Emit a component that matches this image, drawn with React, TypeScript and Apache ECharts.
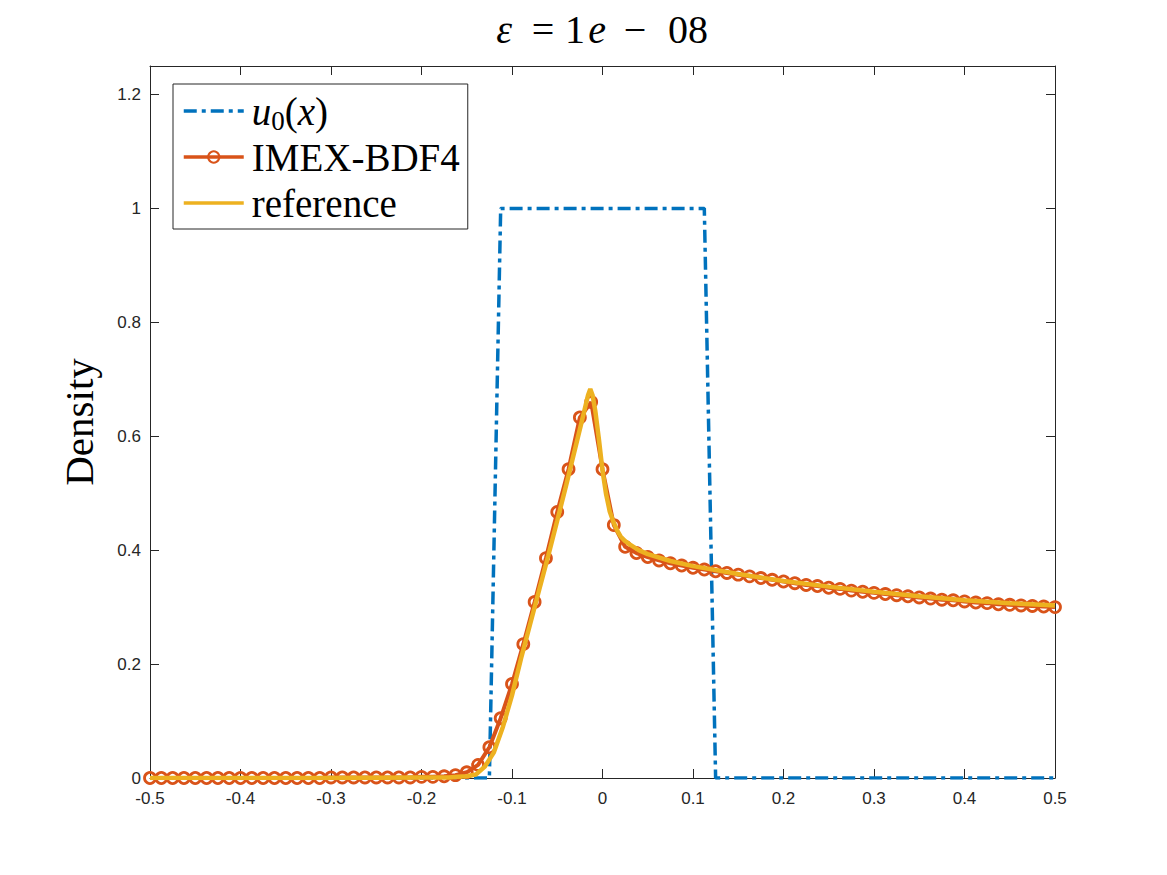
import { useEffect, useRef } from "react";
import * as echarts from "echarts";

// Uniform mesh on [-0.5, 0.5] with 80 cells
const xGrid: number[] = Array.from({ length: 81 }, (_, i) => -0.5 + i / 80);

// Initial datum u0(x) sampled on the mesh
const u0Values: number[] = [
  0, 0, 0, 0, 0, 0, 0, 0, 0, 0,
  0, 0, 0, 0, 0, 0, 0, 0, 0, 0,
  0, 0, 0, 0, 0, 0, 0, 0, 0, 0,
  0, 1, 1, 1, 1, 1, 1, 1, 1, 1,
  1, 1, 1, 1, 1, 1, 1, 1, 1, 1,
  0, 0, 0, 0, 0, 0, 0, 0, 0, 0,
  0, 0, 0, 0, 0, 0, 0, 0, 0, 0,
  0, 0, 0, 0, 0, 0, 0, 0, 0, 0,
  0,
];

// IMEX-BDF4 solution on the mesh
const imexValues: number[] = [
  0, 0, 0, 0, 0, 0, 0, 0, 0, 0,
  0, 0, 0, 0, 0, 0, 0.001, 0.001, 0.001, 0.001,
  0.001, 0.001, 0.001, 0.001, 0.002, 0.002, 0.003, 0.005, 0.01, 0.023,
  0.054, 0.105, 0.165, 0.235, 0.309, 0.386, 0.467, 0.542, 0.633, 0.66,
  0.542, 0.444, 0.406, 0.395, 0.388, 0.382, 0.377, 0.373, 0.369, 0.366,
  0.363, 0.36, 0.357, 0.354, 0.351, 0.348, 0.345, 0.342, 0.339, 0.337,
  0.334, 0.332, 0.329, 0.327, 0.325, 0.323, 0.321, 0.319, 0.317, 0.315,
  0.313, 0.312, 0.31, 0.308, 0.307, 0.305, 0.304, 0.303, 0.302, 0.301,
  0.3,
];

// Reference solution (finer sampling)
const refX: number[] = [
  -0.5, -0.3, -0.2, -0.17, -0.16, -0.15, -0.14, -0.13, -0.12, -0.11,
  -0.1, -0.09, -0.08, -0.07, -0.06, -0.05, -0.04, -0.03, -0.02, -0.016,
  -0.0135, -0.011, -0.008, -0.004, 0, 0.004, 0.008, 0.012, 0.016, 0.02,
  0.025, 0.03, 0.04, 0.05, 0.075, 0.1, 0.15, 0.2, 0.25, 0.3,
  0.35, 0.4, 0.45, 0.5,
];
const refY: number[] = [
  0, 0, 0.001, 0.001, 0.002, 0.003, 0.006, 0.02, 0.045, 0.09,
  0.145, 0.21, 0.27, 0.33, 0.39, 0.452, 0.515, 0.58, 0.645, 0.672,
  0.683, 0.672, 0.645, 0.595, 0.54, 0.498, 0.468, 0.45, 0.435, 0.424,
  0.416, 0.41, 0.4, 0.393, 0.381, 0.372, 0.358, 0.346, 0.336, 0.327,
  0.319, 0.312, 0.307, 0.303,
];

// Title pieces: ε = 1e − 08 (italic for math symbols)
const titleParts: { text: string; italic: boolean; cx: number }[] = [
  { text: "ε", italic: true, cx: 504 },
  { text: "=", italic: false, cx: 543 },
  { text: "1", italic: false, cx: 575 },
  { text: "e", italic: true, cx: 597 },
  { text: "−", italic: false, cx: 635 },
  { text: "08", italic: false, cx: 688 },
];

const xTicks = { min: -0.5, max: 0.5, step: 0.1 };
const yTicks = { min: 0, max: 1.25, step: 0.2 };

const BLUE = "#0072BD";
const ORANGE = "#D95319";
const YELLOW = "#EDB120";
const AXIS = "#262626";
const SERIF = "Liberation Serif";
const SANS = "Liberation Sans";

const fmt = (v: number) => {
  const r = Math.round(v * 10) / 10;
  return Object.is(r, -0) ? "0" : String(r);
};

export default function App() {
  const ref = useRef<HTMLDivElement>(null);

  useEffect(() => {
    if (!ref.current) return;
    const chart = echarts.init(ref.current, null, { renderer: "svg" });

    const tick = { show: true, inside: true, length: 9, lineStyle: { color: AXIS, width: 1 } };
    const line = { show: true, onZero: false, lineStyle: { color: AXIS, width: 1 } };
    const serifText = (size: number, italic = false) => ({
      fontFamily: SERIF,
      fontStyle: italic ? "italic" : "normal",
      fontWeight: "normal",
      fontSize: size,
      color: "#000",
    });

    chart.setOption({
      animation: false,
      backgroundColor: "#fff",
      textStyle: { fontFamily: SERIF },
      title: titleParts.map((p) => ({
        text: p.text,
        left: p.cx,
        top: 29,
        textAlign: "center",
        textVerticalAlign: "middle",
        padding: 0,
        textStyle: serifText(40, p.italic),
      })),
      legend: {
        left: 173,
        top: 84,
        orient: "vertical",
        padding: [4, 8, 3, 9],
        itemGap: 0,
        itemWidth: 60,
        itemHeight: 14,
        borderColor: AXIS,
        borderWidth: 1,
        backgroundColor: "#fff",
        lineStyle: { width: 3.5 },
        data: ["u0(x)", "IMEX-BDF4", "reference"],
        formatter: (name: string) =>
          name === "u0(x)" ? "{i|u}{s|0}{n|(}{i|x}{n|)}" : name,
        textStyle: {
          ...serifText(39),
          lineHeight: 46,
          padding: [0, 0, 0, 3],
          rich: {
            i: { ...serifText(39, true), lineHeight: 46 },
            n: { ...serifText(39), lineHeight: 46 },
            s: { ...serifText(27), lineHeight: 28, verticalAlign: "bottom" },
          },
        },
      },
      grid: { left: 150, right: 112, top: 66, bottom: 97, containLabel: false },
      xAxis: [
        {
          type: "value",
          min: xTicks.min,
          max: xTicks.max,
          interval: xTicks.step,
          axisLine: line,
          axisTick: tick,
          splitLine: { show: false },
          axisLabel: { formatter: fmt, fontFamily: SANS, fontSize: 17, color: AXIS, margin: 12 },
        },
        {
          type: "value",
          position: "top",
          min: xTicks.min,
          max: xTicks.max,
          interval: xTicks.step,
          axisLine: line,
          axisTick: tick,
          splitLine: { show: false },
          axisLabel: { show: false },
        },
      ],
      yAxis: [
        {
          type: "value",
          min: yTicks.min,
          max: yTicks.max,
          interval: yTicks.step,
          axisLine: line,
          axisTick: tick,
          splitLine: { show: false },
          name: "Density",
          nameLocation: "middle",
          nameGap: 51,
          nameTextStyle: serifText(41),
          axisLabel: {
            showMaxLabel: false,
            formatter: fmt,
            fontFamily: SANS,
            fontSize: 17,
            color: AXIS,
            margin: 9,
          },
        },
        {
          type: "value",
          position: "right",
          min: yTicks.min,
          max: yTicks.max,
          interval: yTicks.step,
          axisLine: line,
          axisTick: tick,
          splitLine: { show: false },
          axisLabel: { show: false },
        },
      ],
      series: [
        {
          name: "u0(x)",
          type: "line",
          data: xGrid.map((x, i) => [x, u0Values[i]]),
          showSymbol: false,
          symbol: "none",
          z: 1,
          itemStyle: { color: BLUE, opacity: 0 },
          lineStyle: { color: BLUE, width: 3.5, type: [13, 5, 4, 5] },
        },
        {
          name: "IMEX-BDF4",
          type: "line",
          data: xGrid.map((x, i) => [x, imexValues[i]]),
          symbol: "circle",
          symbolSize: 11,
          showAllSymbol: true,
          z: 2,
          itemStyle: { color: "rgba(255,255,255,0)", borderColor: ORANGE, borderWidth: 2.8 },
          lineStyle: { color: ORANGE, width: 4 },
        },
        {
          name: "reference",
          type: "line",
          data: refX.map((x, i) => [x, refY[i]]),
          showSymbol: false,
          symbol: "none",
          z: 3,
          itemStyle: { color: YELLOW, opacity: 0 },
          lineStyle: { color: YELLOW, width: 4.5 },
        },
      ],
    });

    return () => chart.dispose();
  }, []);

  return <div ref={ref} style={{ width: 1167, height: 875, margin: -8 }} />;
}
